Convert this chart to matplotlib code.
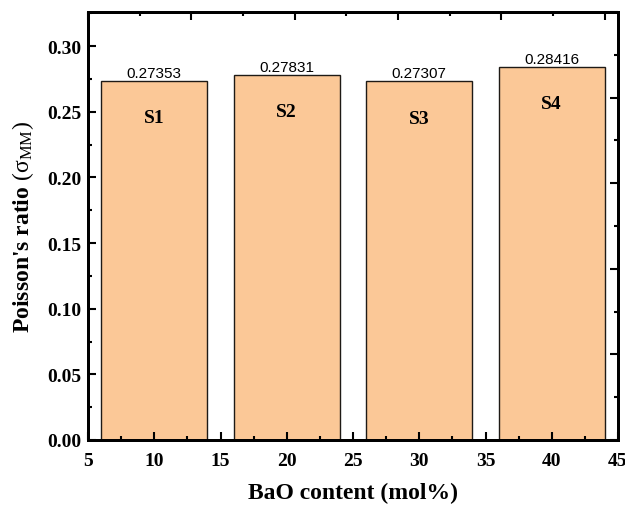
import matplotlib
matplotlib.use("Agg")
import matplotlib.pyplot as plt
from matplotlib.ticker import MultipleLocator

# data
content = [10, 20, 30, 40]
ratio = [0.27353, 0.27831, 0.27307, 0.28416]
samples = ["S1", "S2", "S3", "S4"]

plt.rcParams['font.family'] = ['Liberation Serif', 'DejaVu Serif']
plt.rcParams['mathtext.fontset'] = 'custom'
plt.rcParams['mathtext.rm'] = 'Liberation Serif'

fig = plt.figure(figsize=(6.25, 5.10), dpi=100)
ax = fig.add_axes([0.1408, 0.1353, 0.848, 0.8392])

ax.bar(content, ratio, width=8, color='#FBC897', edgecolor='#1e1a16', linewidth=1)

for x, v, s in zip(content, ratio, samples):
    ax.text(x, v + 0.0008, f"{v:.5f}", ha='center', va='bottom',
            family='Liberation Sans', fontsize=11)
    ax.text(x, v - 0.028, s, ha='center', va='center', fontsize=14, fontweight='bold')

ax.set_xlim(5, 45)
ax.set_ylim(0, 0.326)
ax.xaxis.set_major_locator(MultipleLocator(5))
ax.xaxis.set_minor_locator(MultipleLocator(2.5))
ax.yaxis.set_major_locator(MultipleLocator(0.05))
ax.yaxis.set_minor_locator(MultipleLocator(0.025))
ax.yaxis.set_major_formatter(lambda v, p: f"{v:.2f}")

ax.tick_params(which='both', direction='in', width=1.5, labelsize=14)
ax.tick_params(which='major', length=6)
ax.tick_params(which='minor', length=3)
ax.tick_params(axis='x', pad=9)
ax.tick_params(axis='y', pad=5)
for lab in ax.get_xticklabels() + ax.get_yticklabels():
    lab.set_fontweight('bold')

ax.set_xlabel("BaO content (mol%)", fontsize=17, fontweight='bold', labelpad=9)
ax.set_ylabel(r"Poisson's ratio $\mathrm{(σ_{MM})}$", fontsize=17, fontweight='bold', labelpad=8)

for sp in ax.spines.values():
    sp.set_linewidth(2)

# top and right axes (own scales, no labels)
top = ax.twiny()
top.set_xlim(0, 5.13)
top.xaxis.set_major_locator(MultipleLocator(1))
top.xaxis.set_minor_locator(MultipleLocator(0.5))
top.tick_params(which='both', direction='in', width=1.5, labeltop=False)
top.tick_params(which='major', length=6)
top.tick_params(which='minor', length=3)

right = ax.twinx()
right.set_ylim(0, 5.0)
right.yaxis.set_major_locator(MultipleLocator(1))
right.yaxis.set_minor_locator(MultipleLocator(0.5))
right.tick_params(which='both', direction='in', width=1.5, labelright=False)
right.tick_params(which='major', length=6)
right.tick_params(which='minor', length=3)
for a in (top, right):
    for sp in a.spines.values():
        sp.set_linewidth(2)

fig.savefig("out.png", dpi=100)
